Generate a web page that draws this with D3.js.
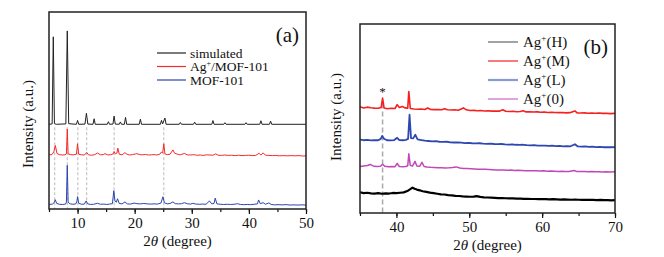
<!DOCTYPE html>
<html>
<head>
<meta charset="utf-8">
<script src="https://cdn.jsdelivr.net/npm/d3@7"></script>
<style>
  body { margin: 0; background: #fff; }
</style>
</head>
<body>
<script>
// // DATA ////////////////////////////////////////////////////////////////////

// panel (a): 2theta (deg) vs stacked intensity (a.u., 0-100)
const simulated = [
  [5, 43], [5.55, 43.2], [5.75, 87.4], [5.95, 43.3], [6.3, 43],
  [7.95, 43.2], [8.2, 90.4], [8.45, 43.3], [9.8, 43], [10.0, 45], [10.2, 43],
  [11.3, 43.1], [11.55, 48.6], [11.8, 43.1], [12.7, 43], [12.9, 45.8], [13.1, 43],
  [15.2, 43], [15.4, 44.3], [15.6, 43], [16.2, 43.1], [16.4, 47.2], [16.6, 43.1],
  [17.3, 43], [17.5, 44.2], [17.7, 43], [18.2, 43], [18.4, 46.5], [18.6, 43],
  [20.8, 43], [21.0, 45.6], [21.2, 43], [24.5, 43], [24.7, 45.0], [24.9, 43.2],
  [25.3, 46.2], [25.5, 43], [27.8, 43], [28.0, 43.9], [28.2, 43],
  [30.3, 43], [30.5, 44.1], [30.7, 43], [33.5, 43], [33.7, 44.9], [33.9, 43],
  [35.6, 43], [35.8, 43.8], [36, 43], [39.3, 43], [39.5, 43.8], [39.7, 43],
  [41.9, 43], [42.1, 44.8], [42.3, 43], [43.6, 43], [43.8, 44.6], [44, 43], [50, 43]
];

const agMof101 = [
  [5, 27.5], [5.5, 27.6], [5.85, 29], [6.1, 32.3], [6.4, 28.2], [6.8, 27.6], [7.3, 27.4],
  [7.8, 27.5], [8.05, 28], [8.2, 40.6], [8.35, 28], [8.8, 27.6], [9.3, 27.5], [9.8, 27.8],
  [10.0, 33.1], [10.2, 27.8], [10.7, 27.5], [11.2, 27.4], [11.6, 28.7], [11.9, 27.5],
  [12.5, 27.3], [13.0, 27.6], [13.5, 28.4], [14.0, 27.5], [14.5, 27.6], [14.8, 28.1],
  [15.3, 27.4], [15.8, 27.6], [16.25, 28], [16.4, 29.2], [16.6, 28], [16.9, 28.4],
  [17.05, 30.9], [17.3, 27.8], [17.8, 27.5], [18.3, 28.6], [18.6, 27.9], [19.1, 27.4],
  [19.6, 27.6], [20.1, 27.9], [20.4, 28.1], [20.9, 27.6], [21.4, 27.5], [21.9, 27.7],
  [22.4, 27.4], [22.9, 27.5], [23.4, 27.6], [23.9, 27.4], [24.4, 27.8], [24.7, 29],
  [24.9, 28.3], [25.1, 33.1], [25.3, 28], [25.7, 27.6], [26.2, 27.8], [26.7, 30],
  [27.0, 28.3], [27.5, 27.8], [28.0, 27.5], [28.7, 28.2], [29.2, 27.5], [29.8, 27.4],
  [30.3, 27.6], [30.9, 27.3], [31.5, 27.4], [32.0, 27.2], [32.6, 27.5], [33.2, 27.4],
  [33.7, 27.3], [34.2, 28], [34.6, 27.3], [35.2, 27.2], [35.8, 27.4], [36.4, 27.2],
  [37, 27.3], [37.6, 27.1], [38.2, 27.3], [38.8, 27.1], [39.4, 27.2], [40, 27.3],
  [40.6, 27.1], [41.2, 27.2], [41.8, 28.3], [42.1, 27.4], [42.5, 28.5], [42.9, 27.3],
  [43.5, 27.2], [44.1, 27.1], [44.7, 27.2], [45.3, 27], [46, 27.1], [46.7, 27],
  [47.4, 27.1], [48.1, 27], [48.8, 27.1], [49.4, 26.9], [50, 27]
];

const mof101 = [
  [5, 2.3], [5.6, 2.5], [5.9, 3.2], [6.1, 4.7], [6.35, 2.8], [6.8, 2.4], [7.4, 2.3],
  [7.9, 2.5], [8.05, 3.5], [8.2, 22.2], [8.35, 3.4], [8.7, 2.6], [9.2, 2.4], [9.7, 2.6],
  [9.9, 4], [10.0, 6.3], [10.2, 2.9], [10.7, 2.4], [11.2, 2.5], [11.5, 4.1], [11.8, 2.6],
  [12.3, 2.3], [12.8, 2.4], [13.5, 2.9], [14.0, 2.4], [14.6, 2.5], [15.1, 2.3], [15.6, 2.5],
  [16.1, 2.7], [16.35, 9.3], [16.55, 4], [16.8, 3.5], [17.0, 5.2], [17.3, 2.8], [17.8, 2.6],
  [18.3, 3.6], [18.7, 2.6], [19.3, 2.5], [19.9, 3], [20.4, 2.7], [21, 2.6], [21.6, 2.8],
  [22.2, 2.6], [22.8, 2.5], [23.4, 2.6], [24, 2.5], [24.6, 3], [24.95, 6.2], [25.2, 3.2],
  [25.7, 2.6], [26.2, 2.8], [26.7, 3.6], [27.1, 2.7], [27.7, 2.6], [28.2, 2.7], [28.7, 3.2],
  [29.3, 2.6], [29.8, 2.5], [30.2, 2.9], [30.7, 2.5], [31.3, 2.4], [31.9, 2.5], [32.5, 2.4],
  [33.1, 4.1], [33.5, 2.6], [33.9, 2.8], [34.1, 5.5], [34.4, 2.6], [35, 2.4], [35.6, 2.3],
  [36.2, 2.4], [36.8, 2.3], [37.4, 2.4], [38, 2.7], [38.5, 2.3], [39.1, 2.2], [39.7, 2.3],
  [40.3, 2.2], [40.9, 2.4], [41.5, 2.6], [41.7, 4.6], [42, 2.7], [42.5, 3.2], [42.9, 2.4],
  [43.5, 3.1], [43.9, 2.3], [44.5, 2.1], [45.1, 2.2], [45.8, 2.1], [46.5, 2.2], [47.2, 2],
  [47.9, 2.1], [48.6, 2], [49.3, 2.1], [50, 2]
];

const refLinesA = [6.0, 8.2, 10.05, 11.6, 16.4, 25.1]; // dashed guide positions
const namesA = ["simulated", "Ag+/MOF-101", "MOF-101"];

// panel (b)
const agM = [
  [35, 56.2], [35.5, 55.6], [36, 56], [36.5, 55.7], [37, 55.5], [37.5, 55.4], [37.9, 55.8],
  [38.1, 60.8], [38.3, 55.6], [38.8, 55.2], [39.3, 55.4], [39.8, 55.3], [40.1, 57.3],
  [40.4, 55.8], [40.8, 56.4], [41.2, 55.6], [41.55, 55.5], [41.7, 64.3], [41.9, 55.3],
  [42.4, 55], [42.9, 54.9], [43.4, 55], [43.9, 54.8], [44.3, 55.6], [44.7, 54.8], [45.2, 54.7],
  [45.7, 54.8], [46.2, 54.6], [46.6, 55.2], [47, 54.6], [47.5, 54.5], [48, 54.6], [48.5, 54.4],
  [49.2, 55.6], [49.6, 54.6], [50.1, 54.2], [50.6, 54.3], [51.1, 54.1], [51.6, 54.2], [52.1, 54],
  [52.6, 54.1], [53.1, 53.9], [53.6, 54], [54.1, 53.9], [54.6, 54.6], [55, 53.8], [55.5, 53.7],
  [56, 53.8], [56.5, 53.6], [57, 53.7], [57.4, 54.1], [57.8, 53.5], [58.3, 53.6], [58.8, 53.4],
  [59.3, 53.5], [59.8, 53.3], [60.3, 53.4], [60.8, 53.2], [61.3, 53.3], [61.8, 53.2],
  [62.3, 53.1], [62.8, 53.2], [63.3, 53], [63.8, 53.1], [64.5, 54], [64.8, 53], [65.3, 52.9],
  [65.8, 53], [66.3, 52.8], [66.8, 52.9], [67.3, 52.8], [67.8, 52.9], [68.3, 52.7],
  [68.8, 52.8], [69.3, 52.6], [70, 52.7]
];

const agL = [
  [35, 38.8], [35.5, 38.5], [36, 38.7], [36.5, 38.4], [37, 38.6], [37.5, 38.5], [37.85, 39.2],
  [38.05, 40.8], [38.3, 39.3], [38.7, 38.5], [39.2, 38.4], [39.7, 38.6], [40.1, 39.8],
  [40.4, 38.6], [40.9, 38.5], [41.3, 38.7], [41.6, 39.2], [41.8, 52], [42.0, 39.6],
  [42.3, 39.5], [42.6, 41.4], [42.9, 38.9], [43.4, 38.6], [43.9, 38.3], [44.4, 38.1],
  [44.9, 37.9], [45.4, 38], [45.9, 37.7], [46.4, 37.6], [46.9, 37.7], [47.4, 37.4],
  [47.9, 37.3], [48.4, 37.4], [48.9, 37.2], [49.4, 37], [49.9, 37.1], [50.4, 36.9],
  [50.9, 36.8], [51.4, 36.9], [51.9, 36.7], [52.4, 36.6], [52.9, 36.7], [53.4, 36.5],
  [53.9, 36.4], [54.4, 36.5], [54.9, 36.3], [55.4, 36.2], [55.9, 36.3], [56.4, 36.1],
  [56.9, 36], [57.4, 36.1], [57.9, 35.9], [58.4, 35.8], [58.9, 35.9], [59.4, 35.7],
  [59.9, 35.6], [60.4, 35.7], [60.9, 35.5], [61.4, 35.6], [61.9, 35.4], [62.4, 35.5],
  [62.9, 35.3], [63.4, 35.4], [63.9, 35.3], [64.5, 36.4], [64.9, 35.2], [65.4, 35.1],
  [65.9, 35.2], [66.4, 35], [66.9, 35.1], [67.4, 34.9], [67.9, 35], [68.4, 34.8],
  [68.9, 34.9], [69.4, 34.8], [70, 34.9]
];

const ag0 = [
  [35, 24.6], [35.5, 24.9], [36, 25.1], [36.4, 25.7], [36.8, 24.9], [37.3, 24.6], [37.8, 24.7],
  [38.1, 25.8], [38.4, 24.7], [38.9, 24.5], [39.4, 24.6], [39.8, 24.5], [40.1, 26.2],
  [40.4, 24.6], [40.9, 24.5], [41.3, 24.6], [41.55, 25], [41.7, 31.3], [41.9, 25.2],
  [42.2, 24.8], [42.55, 27.3], [42.8, 24.9], [43.2, 24.8], [43.5, 26.8], [43.8, 24.6],
  [44.2, 24.4], [44.7, 24.2], [45.2, 24.1], [45.7, 23.9], [46.2, 24], [46.7, 23.8],
  [47.2, 23.9], [47.7, 24.1], [48.2, 24.4], [48.7, 23.8], [49.2, 23.6], [49.7, 23.5],
  [50.2, 23.4], [50.7, 23.3], [51.2, 23.2], [51.7, 23.1], [52.2, 23.1], [52.7, 23],
  [53.2, 22.9], [53.7, 22.8], [54.2, 22.8], [54.7, 22.7], [55.2, 22.6], [55.7, 22.7],
  [56.2, 22.5], [56.7, 22.6], [57.2, 22.5], [57.7, 22.4], [58.2, 22.4], [58.7, 22.3],
  [59.2, 22.3], [59.7, 22.2], [60.2, 22.3], [60.7, 22.1], [61.2, 22.2], [61.7, 22.1],
  [62.2, 22], [62.7, 22.1], [63.2, 22], [63.7, 22], [64.4, 22.5], [64.8, 21.9], [65.3, 22],
  [65.8, 21.9], [66.3, 21.8], [66.8, 21.9], [67.3, 21.8], [67.8, 21.8], [68.3, 21.7],
  [68.8, 21.8], [69.3, 21.7], [70, 21.8]
];

const agH = [
  [35, 11], [35.5, 10.5], [36, 10.7], [36.5, 10.4], [37, 10.3], [37.5, 10.5], [38, 10.2],
  [38.5, 10.4], [39, 10.3], [39.5, 10.6], [40, 10.5], [40.5, 10.7], [41, 10.9], [41.5, 11.6],
  [41.9, 12.6], [42.2, 13.4], [42.5, 12.8], [42.8, 12.4], [43.2, 12], [43.6, 11.5],
  [44.1, 11.2], [44.6, 10.8], [45.1, 10.5], [45.6, 10.2], [46.1, 9.9], [46.6, 9.8],
  [47.1, 9.5], [47.6, 9.3], [48.1, 9.1], [48.6, 9], [49.1, 8.8], [49.6, 8.7], [50.1, 8.6],
  [50.6, 8.7], [51, 8.9], [51.5, 8.5], [52, 8.3], [52.5, 8.2], [53, 8.1], [53.5, 8],
  [54, 7.9], [54.5, 7.9], [55, 7.8], [55.5, 7.7], [56, 7.7], [56.5, 7.6], [57, 7.6],
  [57.5, 7.5], [58, 7.5], [58.5, 7.4], [59, 7.4], [59.5, 7.3], [60, 7.4], [60.5, 7.3],
  [61, 7.2], [61.5, 7.3], [62, 7.2], [62.5, 7.1], [63, 7.2], [63.5, 7.1], [64, 7],
  [64.5, 7.1], [65, 7], [65.5, 6.9], [66, 7], [66.5, 6.9], [67, 6.9], [67.5, 6.8],
  [68, 6.9], [68.5, 6.8], [69, 6.8], [69.5, 6.7], [70, 6.8]
];

const refLinesB = [38.1];
const namesB = ["H", "M", "L", "0"];

// // SETUP ///////////////////////////////////////////////////////////////////

const FONT = '"Liberation Serif", "DejaVu Serif", serif';

const svg = d3.select('body')
  .append('svg')
  .attr('width', 664)
  .attr('height', 257)
  .attr('font-family', FONT);

function panel(opts) {
  const x = d3.scaleLinear().domain(opts.xDomain).range([opts.left, opts.right]);
  const y = d3.scaleLinear().domain([0, 100]).range([opts.bottom, opts.top]);
  const g = svg.append('g');

  // dashed guides
  g.selectAll('line.guide')
    .data(opts.guides)
    .enter().append('line')
    .attr('x1', d => x(d)).attr('x2', d => x(d))
    .attr('y1', y(opts.guideTop)).attr('y2', opts.bottom)
    .attr('stroke', '#aaa')
    .attr('stroke-width', opts.guideWidth)
    .attr('stroke-dasharray', opts.guideDash);

  const line = d3.line().x(d => x(d[0])).y(d => y(d[1]));
  opts.series.forEach(s => {
    g.append('path')
      .datum(s.data)
      .attr('d', line)
      .attr('fill', 'none')
      .attr('stroke', s.color)
      .attr('stroke-width', s.width)
      .attr('stroke-linejoin', 'round');
  });

  // axis with major + minor ticks
  const minor = d3.range(opts.xDomain[0], opts.xDomain[1] + 0.1, 5);
  const major = minor.filter(v => v % 10 === 0);
  g.append('g')
    .attr('transform', `translate(0,${opts.bottom})`)
    .call(d3.axisBottom(x).tickValues(minor).tickSize(3).tickFormat(''))
    .call(a => a.select('.domain').remove())
    .selectAll('line').attr('stroke', '#111').attr('stroke-width', 1.2);
  const ax = g.append('g')
    .attr('transform', `translate(0,${opts.bottom})`)
    .call(d3.axisBottom(x).tickValues(major).tickSize(5).tickPadding(3).tickFormat(d3.format('d')));
  ax.attr('font-family', FONT).attr('font-size', 15);
  ax.select('.domain').remove();
  ax.selectAll('line').attr('stroke', '#111').attr('stroke-width', 1.2);
  ax.selectAll('text').attr('fill', '#111');

  // frame
  g.append('rect')
    .attr('x', opts.left).attr('y', opts.top)
    .attr('width', opts.right - opts.left).attr('height', opts.bottom - opts.top)
    .attr('fill', 'none').attr('stroke', '#222').attr('stroke-width', 1.5);

  // axis titles
  const xt = g.append('text')
    .attr('x', (opts.left + opts.right) / 2)
    .attr('y', opts.bottom + 37)
    .attr('text-anchor', 'middle')
    .attr('font-size', 15)
    .attr('fill', '#111');
  xt.append('tspan').text('2');
  xt.append('tspan').attr('font-style', 'italic').text('θ');
  xt.append('tspan').text(' (degree)');

  g.append('text')
    .attr('transform', `translate(${opts.yLabelX},${opts.yLabelY}) rotate(-90)`)
    .attr('text-anchor', 'middle')
    .attr('font-size', 15)
    .attr('fill', '#111')
    .text('Intensity (a.u.)');

  g.append('text')
    .attr('x', opts.right - 7).attr('y', opts.top + 30)
    .attr('text-anchor', 'end')
    .attr('font-size', 21)
    .attr('fill', '#111')
    .text(opts.tag);

  return { x, y, g };
}

// // PANEL (a) ///////////////////////////////////////////////////////////////

const colorsA = ['#222', '#f52a2a', '#2d44ad'];
const pa = panel({
  xDomain: [5, 50], left: 49, right: 306, top: 12, bottom: 209,
  guides: refLinesA, guideTop: 41.5, guideWidth: 0.8, guideDash: '3,2',
  series: [
    { data: simulated, color: colorsA[0], width: 1 },
    { data: agMof101, color: colorsA[1], width: 1 },
    { data: mof101, color: colorsA[2], width: 1 }
  ],
  yLabelX: 33, yLabelY: 124, tag: '(a)'
});

const legA = pa.g.selectAll('g.leg')
  .data(namesA)
  .enter().append('g')
  .attr('transform', (d, i) => `translate(157,${53 + i * 13.5})`);
legA.append('line')
  .attr('x1', 0).attr('x2', 29)
  .attr('stroke', (d, i) => colorsA[i]).attr('stroke-width', 1.2);
legA.each(function (d) {
  const t = d3.select(this).append('text')
    .attr('x', 33).attr('y', 4.5)
    .attr('font-size', 13.5)
    .attr('fill', '#111');
  if (d.startsWith('Ag+')) {
    t.append('tspan').text('Ag');
    t.append('tspan').attr('dy', -5).attr('font-size', 8).text('+');
    t.append('tspan').attr('dy', 5).text(d.slice(3));
  } else {
    t.text(d);
  }
});

// // PANEL (b) ///////////////////////////////////////////////////////////////

const colorsB = ['#000', '#f52020', '#2d48b0', '#c048b8'];
const legendColorsB = ['#666', '#f52020', '#8a9ad6', '#cc66c8'];
const pb = panel({
  xDomain: [35, 70], left: 360, right: 615, top: 24, bottom: 213,
  guides: refLinesB, guideTop: 58, guideWidth: 1.5, guideDash: '5,3',
  series: [
    { data: agH, color: colorsB[0], width: 2.2 },
    { data: agM, color: colorsB[1], width: 1.6 },
    { data: agL, color: colorsB[2], width: 1.8 },
    { data: ag0, color: colorsB[3], width: 1.5 }
  ],
  yLabelX: 341, yLabelY: 117, tag: '(b)'
});

pb.g.append('text')
  .attr('x', pb.x(refLinesB[0])).attr('y', 96)
  .attr('text-anchor', 'middle')
  .attr('font-size', 13)
  .attr('fill', '#111')
  .text('*');

const legB = pb.g.selectAll('g.leg')
  .data(namesB)
  .enter().append('g')
  .attr('transform', (d, i) => `translate(488,${42 + i * 19})`);
legB.append('line')
  .attr('x1', 0).attr('x2', 30)
  .attr('stroke', (d, i) => legendColorsB[i])
  .attr('stroke-width', (d, i) => i === 2 ? 2.2 : 1.2);
legB.each(function (d) {
  const t = d3.select(this).append('text')
    .attr('x', 35).attr('y', 5)
    .attr('font-size', 15)
    .attr('fill', '#111');
  t.append('tspan').text('Ag');
  t.append('tspan').attr('dy', -6).attr('font-size', 9).text('+');
  t.append('tspan').attr('dy', 6).text(`(${d})`);
});
</script>
</body>
</html>
